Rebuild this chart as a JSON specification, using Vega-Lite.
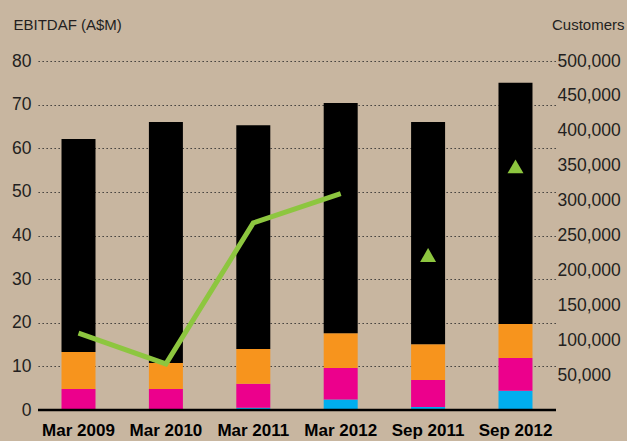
{
  "$schema": "https://vega.github.io/schema/vega-lite/v6.json",
  "autosize": "none",
  "width": 518,
  "height": 349,
  "padding": {"left": 38, "top": 61, "right": 71, "bottom": 31},
  "background": "#c8b6a0",
  "config": {
    "view": {"stroke": null},
    "font": "Liberation Sans",
    "axis": {"labelColor": "#231f20", "titleColor": "#231f20"}
  },
  "datasets": {
    "bars": [
      {"period": "Mar 2009", "segment": "A", "ord": 1, "value": 0},
      {"period": "Mar 2009", "segment": "B", "ord": 2, "value": 4.8},
      {"period": "Mar 2009", "segment": "C", "ord": 3, "value": 8.5},
      {"period": "Mar 2009", "segment": "D", "ord": 4, "value": 48.8},
      {"period": "Mar 2010", "segment": "A", "ord": 1, "value": 0},
      {"period": "Mar 2010", "segment": "B", "ord": 2, "value": 4.8},
      {"period": "Mar 2010", "segment": "C", "ord": 3, "value": 6.0},
      {"period": "Mar 2010", "segment": "D", "ord": 4, "value": 55.2},
      {"period": "Mar 2011", "segment": "A", "ord": 1, "value": 0.5},
      {"period": "Mar 2011", "segment": "B", "ord": 2, "value": 5.5},
      {"period": "Mar 2011", "segment": "C", "ord": 3, "value": 8.0},
      {"period": "Mar 2011", "segment": "D", "ord": 4, "value": 51.3},
      {"period": "Mar 2012", "segment": "A", "ord": 1, "value": 2.4},
      {"period": "Mar 2012", "segment": "B", "ord": 2, "value": 7.2},
      {"period": "Mar 2012", "segment": "C", "ord": 3, "value": 8.0},
      {"period": "Mar 2012", "segment": "D", "ord": 4, "value": 52.8},
      {"period": "Sep 2011", "segment": "A", "ord": 1, "value": 0.7},
      {"period": "Sep 2011", "segment": "B", "ord": 2, "value": 6.2},
      {"period": "Sep 2011", "segment": "C", "ord": 3, "value": 8.2},
      {"period": "Sep 2011", "segment": "D", "ord": 4, "value": 50.9},
      {"period": "Sep 2012", "segment": "A", "ord": 1, "value": 4.4},
      {"period": "Sep 2012", "segment": "B", "ord": 2, "value": 7.5},
      {"period": "Sep 2012", "segment": "C", "ord": 3, "value": 7.8},
      {"period": "Sep 2012", "segment": "D", "ord": 4, "value": 55.3}
    ],
    "line": [
      {"period": "Mar 2009", "customers": 110000},
      {"period": "Mar 2010", "customers": 66000},
      {"period": "Mar 2011", "customers": 268000},
      {"period": "Mar 2012", "customers": 310000}
    ],
    "tri": [
      {"period": "Sep 2011", "customers": 222000},
      {"period": "Sep 2012", "customers": 349000}
    ],
    "base": [
      {"value": 0}
    ]
  },
  "encoding": {
    "x": {
      "field": "period",
      "type": "nominal",
      "scale": {"domain": ["Mar 2009", "Mar 2010", "Mar 2011", "Mar 2012", "Sep 2011", "Sep 2012"], "paddingInner": 0.611, "paddingOuter": 0.269},
      "axis": {"title": null, "labelAngle": 0, "domain": false, "ticks": false, "labelFont": "Liberation Sans", "labelFontWeight": "bold", "labelFontSize": 17, "labelPadding": 12, "labelColor": "#000000"}
    }
  },
  "layer": [
    {
      "encoding": {
        "y": {
          "field": "value",
          "type": "quantitative",
          "scale": {"domain": [0, 80], "nice": false},
          "axis": {
            "orient": "left",
            "values": [0, 10, 20, 30, 40, 50, 60, 70, 80],
            "title": "EBITDAF (A$M)",
            "titleAngle": 0,
            "titleAlign": "left",
            "titleBaseline": "alphabetic",
            "titleX": -25,
            "titleY": -32,
            "titleFontSize": 15,
            "titleFontWeight": "normal",
            "domain": false,
            "ticks": false,
            "labelFontSize": 17.5,
            "labelPadding": 7,
            "grid": true,
            "gridColor": "#2a2a2a",
            "gridDash": [1.3, 2.7],
            "gridWidth": 1.2,
            "gridOpacity": 1
          }
        }
      },
      "layer": [
        {
          "data": {"name": "bars"},
          "mark": {"type": "bar"},
          "encoding": {
            "color": {
              "field": "segment",
              "type": "nominal",
              "scale": {"domain": ["A", "B", "C", "D"], "range": ["#00aeef", "#ec008c", "#f7941d", "#000000"]},
              "legend": null
            },
            "order": {"field": "ord", "type": "quantitative"}
          }
        },
        {
          "data": {"name": "base"},
          "mark": {"type": "rule", "color": "#000000", "strokeWidth": 2.5},
          "encoding": {"x": null}
        }
      ]
    },
    {
      "encoding": {
        "y": {
          "field": "customers",
          "type": "quantitative",
          "scale": {"domain": [0, 500000], "nice": false},
          "axis": {
            "orient": "right",
            "values": [50000, 100000, 150000, 200000, 250000, 300000, 350000, 400000, 450000, 500000],
            "format": ",d",
            "title": "Customers",
            "titleAngle": 0,
            "titleAlign": "right",
            "titleBaseline": "alphabetic",
            "titleX": 68,
            "titleY": -32,
            "titleFontSize": 15,
            "titleFontWeight": "normal",
            "domain": false,
            "ticks": false,
            "grid": false,
            "labelFontSize": 17.5,
            "labelPadding": 1
          }
        }
      },
      "layer": [
        {
          "data": {"name": "line"},
          "mark": {"type": "line", "color": "#8dc63f", "strokeWidth": 5, "strokeCap": "butt", "strokeJoin": "miter"},
          "encoding": {}
        },
        {
          "data": {"name": "tri"},
          "mark": {"type": "point", "shape": "triangle-up", "filled": true, "color": "#8dc63f", "size": 256, "opacity": 1},
          "encoding": {}
        }
      ]
    }
  ],
  "resolve": {"scale": {"y": "independent"}}
}
